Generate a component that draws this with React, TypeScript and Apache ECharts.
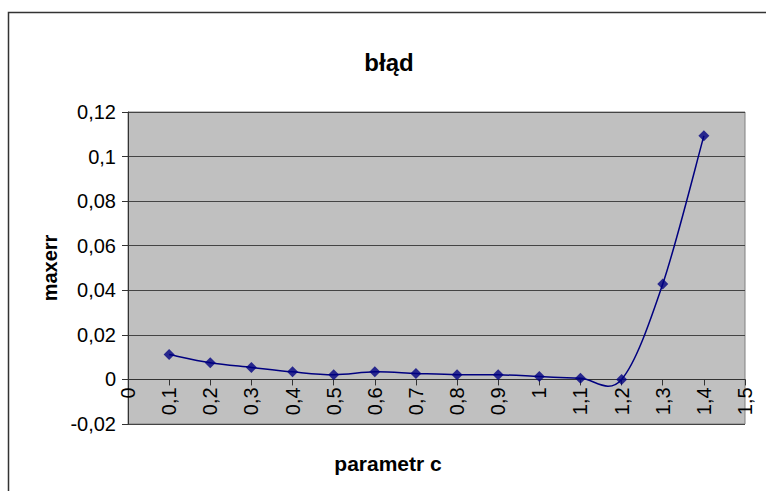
import React, { useEffect, useRef } from "react";
import * as echarts from "echarts";

const xValues = [0.1, 0.2, 0.3, 0.4, 0.5, 0.6, 0.7, 0.8, 0.9, 1.0, 1.1, 1.2, 1.3, 1.4];
const maxerr = [0.0112, 0.0075, 0.0054, 0.0034, 0.0021, 0.0034, 0.0027, 0.0021, 0.0021, 0.0013, 0.0005, 0.0, 0.0428, 0.1093];
const titleText = "błąd";
const xName = "parametr c";
const yName = "maxerr";

const fmt = (v: number) => String(+v.toFixed(2)).replace(".", ",");

const Y_MIN = -0.02;
const Y_MAX = 0.12;
const GRID_TOP = 112;
const GRID_BOTTOM = 67;
const CHART_H = 491;

export default function App() {
  const ref = useRef<HTMLDivElement>(null);
  useEffect(() => {
    if (!ref.current) return;
    const chart = echarts.init(ref.current, null, { renderer: "svg" });
    const font = "Arial, 'Liberation Sans', sans-serif";
    const points = xValues.map((x, i) => [x, maxerr[i]]);
    const gridH = CHART_H - GRID_TOP - GRID_BOTTOM;
    const zeroOffset = -((0 - Y_MIN) / (Y_MAX - Y_MIN)) * gridH;
    chart.setOption({
      animation: false,
      backgroundColor: "#ffffff",
      graphic: [
        {
          type: "rect",
          shape: { x: 8.5, y: 12.5, width: 790, height: 500 },
          style: { fill: "none", stroke: "#333333", lineWidth: 1.5 },
          silent: true,
        },
        {
          type: "text",
          x: 389,
          y: 62,
          style: {
            text: titleText,
            fontFamily: font,
            fontWeight: "bold",
            fontSize: 24,
            fill: "#000",
            align: "center",
            verticalAlign: "middle",
          },
        },
        {
          type: "text",
          x: 388,
          y: 463,
          style: {
            text: xName,
            fontFamily: font,
            fontWeight: "bold",
            fontSize: 21,
            fill: "#000",
            align: "center",
            verticalAlign: "middle",
          },
        },
      ],
      grid: {
        left: 128,
        top: GRID_TOP,
        right: 21,
        bottom: GRID_BOTTOM,
        show: true,
        backgroundColor: "#c0c0c0",
        borderColor: "#808080",
        borderWidth: 1,
      },
      xAxis: {
        type: "value",
        min: 0,
        max: 1.5,
        interval: 0.1,
        offset: zeroOffset,
        axisLine: { onZero: false, lineStyle: { color: "#333333", width: 1 } },
        axisTick: { show: true, inside: false, length: 6, lineStyle: { color: "#333333" } },
        axisLabel: {
          rotate: 90,
          margin: 8,
          fontFamily: font,
          fontSize: 20,
          color: "#000",
          formatter: (v: number) => fmt(v),
        },
        splitLine: { show: false },
      },
      yAxis: {
        type: "value",
        min: Y_MIN,
        max: Y_MAX,
        interval: 0.02,
        name: yName,
        nameLocation: "middle",
        nameGap: 64,
        nameTextStyle: { fontFamily: font, fontWeight: "bold", fontSize: 20, color: "#000" },
        axisLine: { show: true, onZero: false, lineStyle: { color: "#333333", width: 1 } },
        axisTick: { show: true, inside: false, length: 6, lineStyle: { color: "#333333" } },
        axisLabel: {
          margin: 12,
          fontFamily: font,
          fontSize: 20,
          color: "#000",
          formatter: (v: number) => fmt(v),
        },
        splitLine: { show: true, lineStyle: { color: "#444444", width: 1 } },
      },
      series: [
        {
          type: "custom",
          coordinateSystem: "cartesian2d",
          data: points,
          encode: { x: 0, y: 1 },
          z: 2,
          silent: true,
          renderItem: (params: any, api: any) => {
            if (params.dataIndex !== 0) return null;
            const c = points.map((p) => api.coord(p));
            let d = `M${c[0][0]},${c[0][1]}`;
            for (let i = 0; i < c.length - 1; i++) {
              const p0 = c[Math.max(0, i - 1)];
              const p1 = c[i];
              const p2 = c[i + 1];
              const p3 = c[Math.min(c.length - 1, i + 2)];
              const c1x = p1[0] + (p2[0] - p0[0]) / 6;
              const c1y = p1[1] + (p2[1] - p0[1]) / 6;
              const c2x = p2[0] - (p3[0] - p1[0]) / 6;
              const c2y = p2[1] - (p3[1] - p1[1]) / 6;
              d += ` C${c1x},${c1y} ${c2x},${c2y} ${p2[0]},${p2[1]}`;
            }
            return {
              type: "path",
              shape: { pathData: d },
              style: { fill: "none", stroke: "#000080", lineWidth: 1.5 },
            };
          },
        },
        {
          type: "scatter",
          data: points,
          z: 3,
          symbol: "diamond",
          symbolSize: 11,
          itemStyle: { color: "#000080" },
        },
      ],
    });
    return () => chart.dispose();
  }, []);
  return (
    <div
      ref={ref}
      style={{ position: "fixed", left: 0, top: 0, width: 766, height: 491 }}
    />
  );
}
